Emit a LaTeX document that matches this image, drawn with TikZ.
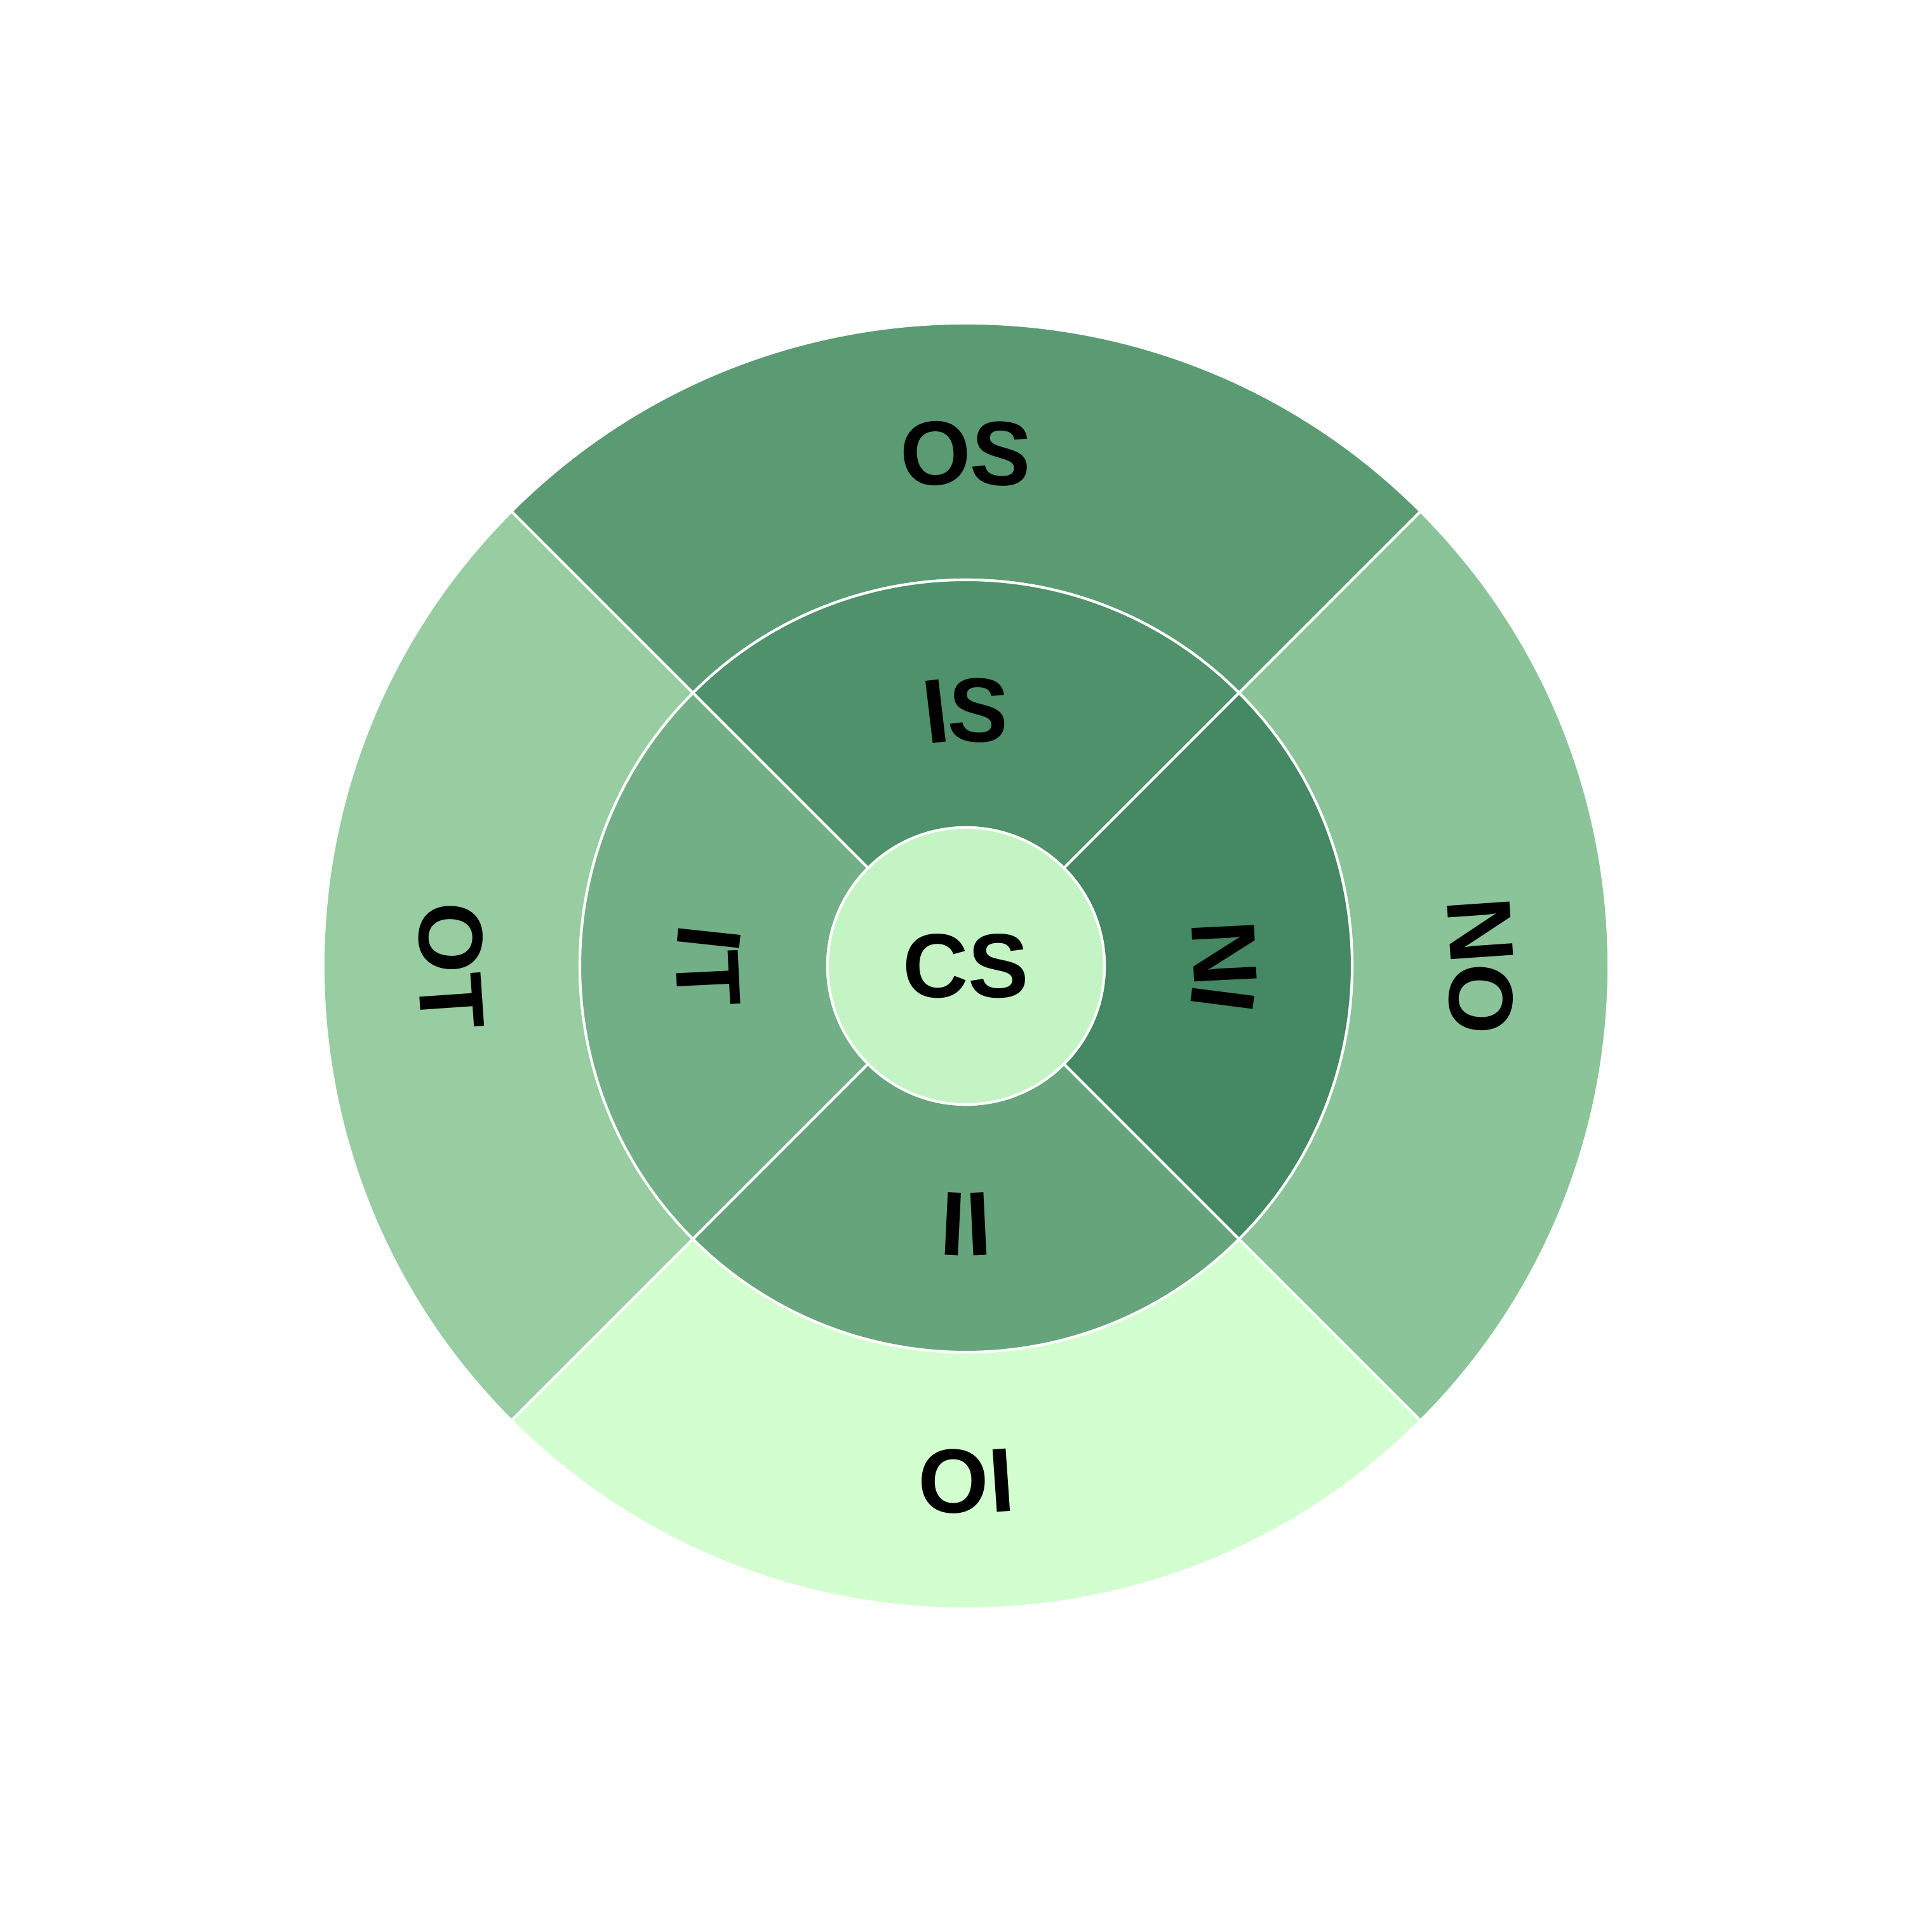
\documentclass[tikz,border=0pt]{standalone}
\usepackage{fontspec}
\setmainfont{Liberation Sans}
\usetikzlibrary{decorations.text}
\definecolor{osgreen}{RGB}{91,155,115}
\definecolor{isgreen}{RGB}{79,145,106}
\definecolor{ingreen}{RGB}{68,136,100}
\definecolor{itgreen}{RGB}{115,175,134}
\definecolor{iigreen}{RGB}{102,164,123}
\definecolor{ongreen}{RGB}{139,196,152}
\definecolor{otgreen}{RGB}{151,205,160}
\definecolor{oigreen}{RGB}{211,254,207}
\definecolor{csgreen}{RGB}{196,244,196}
\newcommand{\lbl}{\bfseries\fontsize{21}{25}\selectfont}

\begin{document}
\begin{tikzpicture}[
    sector/.style={draw=white,line width=0.6pt},
    curved/.style={decorate,decoration={text along path,text align=center,raise=-7.5pt,text={|\lbl|#1}}}
]
    \useasboundingbox[fill=white] (-7.84,-7.84) rectangle (7.84,7.84);
    \def\rc{1.124}
    \def\ri{3.134}
    \def\ro{5.217}
    % outer ring
    \foreach \a/\col in {45/osgreen,135/otgreen,225/oigreen,315/ongreen}{
        \filldraw[sector,fill=\col] (\a:\ri) arc[start angle=\a,end angle=\a+90,radius=\ri]
            -- (\a+90:\ro) arc[start angle=\a+90,end angle=\a,radius=\ro] -- cycle;
    }
    % inner ring
    \foreach \a/\col in {45/isgreen,135/itgreen,225/iigreen,315/ingreen}{
        \filldraw[sector,fill=\col] (\a:\rc) arc[start angle=\a,end angle=\a+90,radius=\rc]
            -- (\a+90:\ri) arc[start angle=\a+90,end angle=\a,radius=\ri] -- cycle;
    }
    \filldraw[sector,fill=csgreen] (0,0) circle[radius=\rc];
    \node[font=\lbl] (cs) at (0,0) {CS};

    % labels, centred on the middle of each ring
    \path[curved=OS] (135:4.176) arc[start angle=135,end angle=45,radius=4.176];
    \path[curved=OT] (135:4.176) arc[start angle=135,end angle=225,radius=4.176];
    \path[curved=OI] (225:4.176) arc[start angle=225,end angle=315,radius=4.176];
    \path[curved=ON] (-45:4.176) arc[start angle=-45,end angle=45,radius=4.176];

    \path[curved=IS] (135:2.088) arc[start angle=135,end angle=45,radius=2.088];
    \path[curved=IT] (135:2.088) arc[start angle=135,end angle=225,radius=2.088];
    \path[curved=II] (225:2.088) arc[start angle=225,end angle=315,radius=2.088];
    \path[curved=IN] (-45:2.088) arc[start angle=-45,end angle=45,radius=2.088];
\end{tikzpicture}
\end{document}
